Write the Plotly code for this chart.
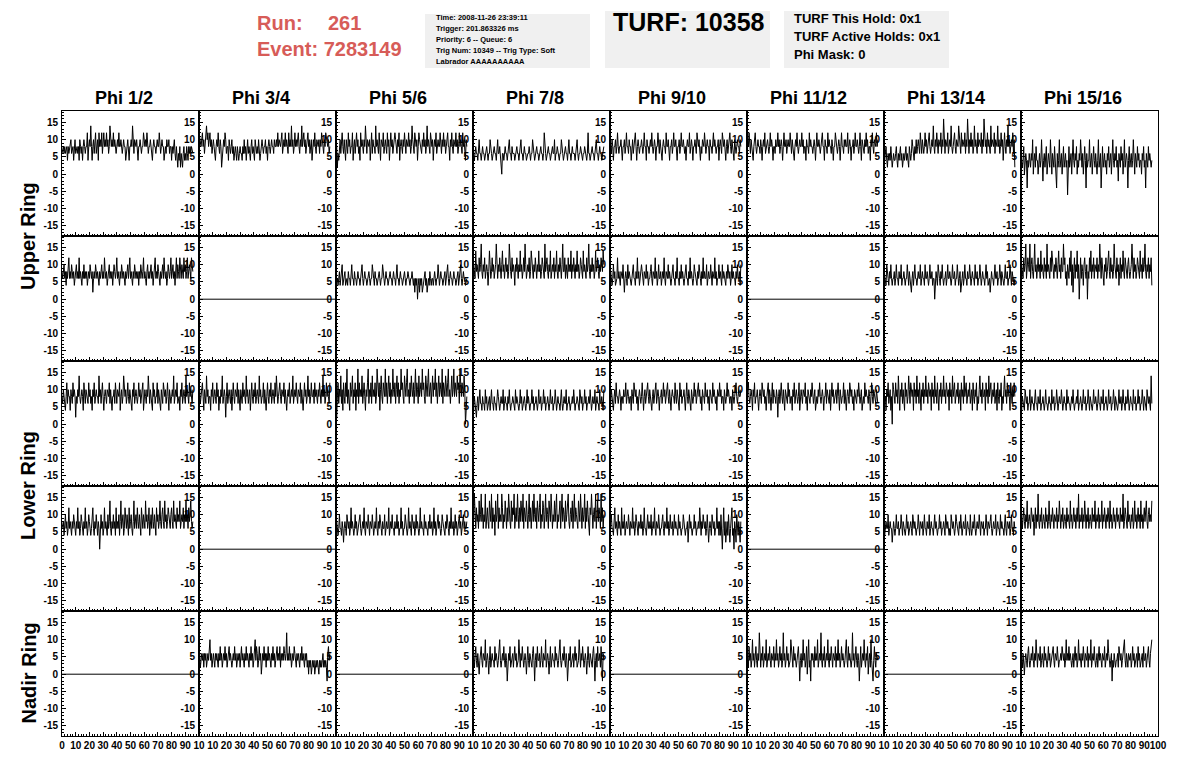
import plotly.graph_objects as go

# ---------------- data (ADC-like waveform samples) ----------------
phi_labels = ["Phi 1/2", "Phi 3/4", "Phi 5/6", "Phi 7/8", "Phi 9/10", "Phi 11/12", "Phi 13/14", "Phi 15/16"]
ring_labels = ["Upper Ring", "Lower Ring", "Nadir Ring"]
y_tick_values = [-15, -10, -5, 0, 5, 10, 15]
x_tick_values = [0, 10, 20, 30, 40, 50, 60, 70, 80, 90, 100]
sample_period_ns = 0.5

r1c1 = [6,8,8,6,8,6,8,8,4,8,6,8,8,10,6,8, 8,4,8,10,6,8,8,6,8,4,10,8,6,8,4,8,
        10,8,6,8,8,12,4,8,10,8,14,8,4,8,10,6, 8,12,6,8,10,4,12,8,10,8,12,6,8,12,8,10,
        8,12,8,10,6,8,14,8,8,10,8,12,8,10,8,6, 8,10,8,12,8,8,10,8,6,8,10,8,8,4,8,8,
        10,8,4,8,8,10,8,14,8,6,10,8,8,10,8,4, 8,8,10,8,6,8,8,12,8,8,10,8,12,8,6,8,
        8,10,8,8,4,8,10,8,8,6,8,10,8,8,12,8, 6,8,10,8,8,4,8,8,6,10,8,8,10,6,8,8,
        4,8,6,8,10,6,4,8,6,2,6,4,8,2,6,4, 2,6,8,4,6,4,8,6,4,8,6,8,6,8,6,6]
r1c2 = [12,10,10,8,10,12,8,10,6,8,10,14,10,12,8,10, 12,8,10,6,8,10,8,6,4,8,10,8,12,8,6,10,
        8,2,6,8,10,8,12,10,6,8,8,4,10,8,6,8, 10,6,8,4,6,8,6,4,8,6,4,6,8,6,6,4,
        8,6,10,6,8,4,6,10,6,8,6,4,8,10,6,8, 6,4,10,8,6,8,6,10,8,4,6,8,10,8,6,8,
        8,10,6,8,4,8,10,8,6,8,10,8,8,6,10,8, 8,10,8,12,8,10,8,8,10,12,6,8,10,8,12,8,
        10,8,6,12,8,10,8,14,8,10,6,8,12,8,10,8, 10,12,8,6,10,8,14,8,10,12,8,10,6,8,10,12,
        8,10,6,8,10,4,8,10,8,12,8,6,10,8,8,10, 6,10,8,12,10,8,6,10,8,12,10,8,8,10,6,8]
r1c3 = [10,8,2,6,4,8,10,6,8,12,8,6,10,8,4,10, 8,6,12,8,10,6,8,8,12,4,8,10,6,8,12,8,
        10,6,8,4,12,8,10,8,6,10,8,14,8,6,10,8, 8,10,4,8,12,6,10,8,8,6,14,8,10,8,6,12,
        8,4,10,8,8,12,6,8,10,8,6,12,8,10,4,8, 12,8,10,6,8,8,12,10,8,6,10,8,12,4,8,10,
        8,6,10,8,12,8,6,10,8,8,12,8,10,6,8,14, 10,8,6,12,8,8,10,4,8,12,10,8,8,6,10,8,
        12,8,10,6,8,14,8,10,8,6,12,8,8,10,4,8, 10,8,12,6,8,10,8,8,12,8,6,10,8,12,8,10,
        6,8,10,12,8,8,4,10,8,12,8,6,10,8,8,12, 8,10,6,8,12,8,10,8,6,12,8,10,8,4,10,8]
r1c4 = [6,6,4,6,8,6,6,4,6,10,6,6,4,6,8,6, 6,4,6,6,8,6,4,6,6,10,6,6,4,6,6,8,
        6,6,4,6,10,6,6,8,6,4,0,6,6,4,6,8, 6,6,4,6,6,10,6,6,4,8,6,6,6,4,6,6,
        8,6,6,4,6,6,10,6,6,4,6,8,6,6,4,6, 6,6,8,6,4,6,6,10,6,6,4,6,6,8,6,6,
        4,6,6,8,6,6,4,6,12,6,6,4,6,6,8,6, 6,4,6,6,8,6,6,10,4,6,6,8,6,6,4,6,
        6,10,6,6,4,6,6,8,6,6,4,6,10,6,6,4, 6,8,6,6,6,4,6,6,10,6,4,6,6,8,6,6,
        4,6,6,8,6,6,4,6,12,6,6,4,6,6,8,6, 6,4,6,6,10,6,6,4,6,8,6,6,4,6,6,8]
r1c5 = [8,8,6,10,8,4,8,8,10,6,8,12,8,6,8,8, 10,8,4,8,8,10,6,8,12,8,8,6,10,8,8,4,
        8,10,6,8,8,12,8,4,8,10,8,6,8,8,10,8, 6,8,12,8,8,4,10,8,8,6,8,10,8,12,8,6,
        8,10,8,4,8,8,12,8,6,10,8,8,4,8,10,8, 8,6,12,8,8,10,8,4,8,8,10,6,8,12,8,8,
        10,8,4,8,8,10,6,8,12,8,8,10,8,6,8,4, 8,10,8,8,12,6,8,10,8,4,8,8,10,8,6,12,
        8,8,10,8,4,8,6,10,8,8,12,8,6,8,10,8, 8,4,10,8,8,6,8,12,8,10,8,6,8,8,10,4,
        8,10,8,6,12,8,8,10,8,4,8,10,6,8,8,12, 8,6,10,8,8,4,10,8,6,8,10,8,8,6,10,8]
r1c6 = [12,10,8,12,8,6,10,8,8,4,8,10,12,8,6,8, 10,8,8,6,10,8,4,8,10,8,12,6,8,8,10,8,
        6,8,12,8,10,8,4,8,8,6,10,8,8,12,8,10, 6,8,10,8,4,8,12,8,8,10,6,8,10,8,8,12,
        8,6,10,8,8,4,8,10,8,12,8,6,8,10,8,8, 12,8,10,6,8,8,4,10,8,8,6,12,8,10,8,8,
        6,8,10,8,4,8,12,8,8,10,8,6,8,10,12,8, 8,4,10,8,8,6,12,8,10,8,8,6,10,8,4,8,
        8,12,10,8,6,8,10,8,4,8,12,8,8,6,10,8, 10,8,8,12,6,8,10,8,4,8,8,10,6,8,12,8,
        8,10,8,6,8,12,8,4,10,8,8,6,10,8,12,8, 10,6,8,8,4,10,8,12,8,6,10,8,8,12,8,10]
r1c7 = [6,4,6,8,4,2,6,4,6,4,8,6,2,4,6,4, 4,6,8,4,2,6,4,6,8,4,6,2,4,6,4,6,
        8,4,6,4,2,8,6,4,6,10,8,6,4,8,6,10, 6,8,10,8,6,12,8,6,10,8,6,8,12,8,10,6,
        8,10,12,8,6,8,10,8,14,8,6,10,8,12,8,6, 10,8,8,12,6,10,8,16,8,6,10,8,8,12,6,8,
        10,8,14,8,6,8,10,12,8,6,10,8,8,14,10,8, 6,12,8,10,8,8,12,6,10,8,16,8,6,10,8,12,
        8,10,6,8,14,8,10,8,6,12,8,10,8,8,12,6, 10,8,16,8,8,10,6,12,8,10,8,6,14,8,10,8,
        8,12,6,10,8,8,14,8,10,6,8,12,8,10,4,8, 12,8,6,10,8,14,8,10,6,8,10,8,12,6,10,2]
r1c8 = [6,4,2,4,8,0,4,6,4,-4,4,2,6,4,2,6, 4,10,0,4,6,2,8,4,4,0,4,6,2,4,10,4,
        -2,4,6,2,4,8,0,4,6,4,2,10,4,0,6,4, 2,8,4,4,-4,6,2,4,10,2,4,6,0,4,8,2,
        4,6,2,4,-6,4,8,2,4,6,0,4,10,4,2,6, 4,8,0,4,2,6,4,10,4,2,6,0,4,8,4,-4,
        6,2,4,4,10,2,4,6,0,4,8,4,2,6,4,0, 4,10,2,4,6,-4,4,8,2,4,6,2,4,0,6,4,
        8,2,4,6,0,4,10,4,2,6,4,8,2,4,-2,6, 4,2,8,4,6,0,4,10,2,4,6,4,-4,4,8,2,
        4,6,2,4,10,4,0,6,4,2,8,4,6,2,4,4, 0,6,4,8,2,4,-4,6,4,2,8,4,6,4,2,4]

r2c1 = [8,6,8,10,6,8,4,8,6,8,12,6,8,6,10,8, 6,8,4,6,8,10,6,8,6,12,6,8,6,4,8,6,
        10,6,8,6,8,4,6,8,6,10,8,6,8,2,6,8, 6,10,8,6,8,6,4,8,6,8,10,6,8,6,12,8,
        6,8,4,6,8,10,6,8,6,8,4,6,10,8,6,8, 12,6,8,6,4,8,6,10,8,6,8,6,4,8,6,8,
        10,6,8,12,6,8,6,4,8,6,10,8,6,8,6,8, 4,8,6,10,8,6,8,12,6,8,6,4,8,10,6,8,
        6,8,10,6,8,4,6,8,12,6,8,6,10,8,6,4, 8,6,8,10,6,12,8,6,8,4,6,10,8,6,8,12,
        6,8,10,6,8,4,8,12,6,10,8,6,12,8,6,10, 8,6,12,8,10,6,8,12,6,8,10,8,6,12,8,8]
r2c3 = [4,6,6,4,6,8,4,6,6,10,4,6,6,8,4,6, 6,4,8,6,6,4,6,10,6,6,4,8,6,6,4,6,
        8,6,6,4,6,6,10,6,4,6,8,6,6,4,6,6, 8,6,4,6,6,10,6,6,4,8,6,6,4,6,6,8,
        6,4,6,6,10,6,6,4,6,8,6,6,4,6,6,8, 6,6,4,6,8,6,6,4,6,10,6,6,4,6,8,6,
        6,4,6,6,8,6,4,6,6,8,6,6,4,6,6,8, 6,4,6,2,6,4,6,0,4,6,2,6,4,6,2,4,
        6,6,8,4,6,2,6,6,4,8,6,4,6,6,4,6, 8,6,4,6,6,10,6,4,6,8,6,6,4,6,6,8,
        4,6,6,10,6,4,6,8,6,6,4,6,8,6,6,4, 6,6,8,4,6,6,10,6,4,6,8,6,6,4,6,6]
r2c4 = [8,10,8,6,14,8,10,8,6,12,8,10,16,8,6,10, 8,12,6,8,10,8,4,8,14,10,6,8,12,8,10,6,
        8,10,16,8,6,10,8,12,8,6,10,14,8,10,6,8, 12,8,10,6,8,16,10,8,6,12,8,10,8,4,10,8,
        12,8,6,10,8,14,8,10,6,8,12,8,16,10,6,8, 10,8,12,6,8,14,10,8,6,10,8,12,8,6,10,8,
        14,8,10,6,8,12,10,8,6,16,8,10,12,8,6,10, 8,14,6,8,10,8,12,6,10,8,14,8,6,10,8,12,
        8,6,10,16,8,8,12,6,10,8,6,12,8,10,8,14, 6,10,8,12,8,6,10,8,14,8,10,6,8,12,10,8,
        6,14,8,10,8,6,12,8,10,16,8,6,10,8,12,8, 10,6,8,14,8,10,12,8,6,10,8,12,10,8,14,10]
r2c5 = [6,8,6,4,6,10,6,8,4,6,6,12,6,8,6,4, 8,6,6,10,6,2,6,8,6,4,10,6,8,6,6,4,
        6,8,10,6,6,4,8,6,12,6,8,4,6,6,10,8, 6,4,8,6,6,10,6,8,4,6,6,8,10,6,4,8,
        6,6,12,6,8,4,6,10,6,6,8,4,6,8,6,12, 6,4,8,6,6,10,6,8,6,4,6,8,10,6,6,4,
        8,6,12,6,6,4,8,6,10,6,8,6,4,6,8,10, 6,6,4,8,6,12,6,8,6,4,6,10,8,6,6,4,
        8,6,10,6,6,4,8,6,12,6,8,6,6,10,4,6, 8,6,6,10,6,4,8,6,6,12,6,8,4,6,6,10,
        6,8,6,4,10,6,8,6,6,4,8,6,10,6,6,8, 4,6,10,6,8,6,6,4,8,6,10,6,6,8,4,10]
r2c7 = [8,6,6,4,10,6,6,4,8,6,10,6,4,6,6,8, 4,6,10,6,6,4,8,6,6,10,4,6,6,8,6,4,
        6,6,10,6,4,8,6,6,2,6,8,4,6,10,6,6, 4,6,8,6,6,10,4,6,8,6,6,4,10,6,6,8,
        6,4,6,10,6,6,8,4,6,6,0,6,8,6,4,10, 6,6,4,8,6,10,6,4,6,6,8,4,6,10,6,6,
        8,6,4,6,10,6,6,8,4,6,6,10,6,4,6,8, 2,6,6,8,4,6,10,6,6,4,8,6,6,10,6,4,
        6,8,6,6,4,10,6,6,8,4,6,6,10,6,4,6, 8,6,6,4,6,10,6,8,4,6,6,2,6,8,6,6,
        4,6,10,6,6,8,4,6,6,10,6,4,8,6,6,4, 6,10,6,6,8,4,6,6,10,6,4,8,6,6,4,6]
r2c8 = [8,10,8,6,12,8,10,16,6,8,12,10,8,16,6,10, 12,8,6,10,16,8,10,6,8,12,8,10,6,14,8,10,
        8,6,12,8,10,6,16,8,10,8,6,12,8,14,10,8, 6,10,8,12,8,6,10,14,8,10,6,12,8,8,16,10,
        12,6,8,4,10,8,6,12,8,14,4,10,2,8,12,6, 10,8,14,6,10,0,8,12,6,10,8,4,10,12,8,6,
        10,0,8,6,12,8,14,6,10,8,12,6,10,8,8,12, 6,10,8,16,8,6,12,10,8,4,10,8,12,6,8,10,
        14,8,6,12,8,10,6,8,16,10,8,6,12,8,10,4, 8,12,6,10,8,14,8,6,12,10,8,6,10,12,8,6,
        8,10,16,8,6,12,8,10,6,8,12,10,8,6,14,8, 10,6,12,8,10,16,8,6,10,8,12,6,10,8,12,4]

r3c1 = [8,6,10,8,8,4,8,12,6,10,8,8,4,10,8,6, 12,8,10,8,2,8,6,10,8,14,8,6,8,10,8,4,
        12,8,6,10,8,8,6,12,8,10,6,8,4,10,8,12, 6,8,10,8,8,6,14,8,10,6,8,12,8,4,8,10,
        8,6,10,8,8,12,6,10,8,4,8,8,10,6,12,8, 6,10,8,8,12,4,8,10,6,8,14,8,8,10,6,8,
        12,8,6,10,8,8,4,10,8,12,6,8,10,8,6,8, 12,8,10,6,8,8,12,4,8,10,8,6,10,8,14,8,
        6,10,8,8,4,12,8,10,6,8,8,12,6,10,8,8, 4,10,8,6,12,8,8,10,6,8,12,8,4,10,8,6,
        8,10,8,14,6,8,10,8,12,6,8,8,4,10,8,12, 6,8,10,8,6,14,8,10,8,6,12,8,10,8,6,10]
r3c2 = [8,10,6,8,8,12,8,4,10,8,6,14,8,10,6,8, 8,4,10,8,12,6,8,10,8,6,12,8,10,4,8,6,
        10,8,14,6,8,10,8,2,8,12,6,8,10,8,6,10, 4,8,12,8,6,10,8,8,12,6,10,8,4,10,8,6,
        12,8,10,8,6,14,8,10,6,8,10,4,8,12,8,6, 10,8,12,6,8,10,8,6,14,8,10,6,8,8,12,6,
        10,8,4,8,12,8,6,10,8,12,6,8,10,8,6,12, 8,14,10,6,8,10,12,8,6,10,8,8,12,6,10,8,
        4,8,10,8,12,6,8,10,8,14,6,8,10,8,12,8, 6,10,8,8,12,6,10,8,4,8,12,8,10,6,8,14,
        8,10,6,8,12,8,8,10,6,12,8,10,8,6,10,8, 12,8,6,10,8,14,8,10,6,8,12,8,10,8,6,12]
r3c3 = [4,2,8,12,6,10,8,14,6,10,4,12,8,6,12,8, 16,6,10,8,4,12,8,10,14,6,10,8,12,4,10,8,
        16,6,12,8,10,8,14,6,10,12,8,4,10,8,12,16, 6,10,8,12,6,14,8,10,8,12,6,8,16,10,8,12,
        4,10,14,8,6,12,10,8,16,8,12,6,10,14,8,12, 6,10,8,16,10,8,12,6,10,14,8,12,6,10,8,16,
        10,12,8,6,14,10,8,12,16,8,10,6,12,8,14,10, 8,12,6,10,16,8,12,10,6,14,8,10,12,8,16,10,
        12,8,6,14,10,8,12,16,8,10,12,6,10,14,8,12, 10,16,8,12,6,10,14,8,12,10,8,16,6,12,10,8,
        14,10,8,12,16,8,10,6,12,14,8,10,16,8,12,10, 8,14,10,12,6,16,10,8,12,10,8,14,10,0,4,8]
r3c4 = [6,4,8,6,6,2,6,8,4,6,10,6,6,4,8,6, 6,4,10,6,8,4,6,6,8,4,6,10,6,6,4,8,
        6,6,4,6,10,8,6,4,6,8,6,6,10,4,6,8, 6,6,4,8,6,10,6,4,6,6,8,6,6,4,10,6,
        8,6,6,4,6,10,6,8,4,6,6,8,6,4,6,10, 6,8,6,4,6,6,10,6,8,4,6,6,8,6,4,6,
        10,6,6,8,4,6,6,10,6,8,4,6,6,8,6,4, 6,10,6,6,8,4,6,6,10,6,4,6,8,6,6,4,
        6,10,6,4,6,8,6,6,10,4,6,6,8,6,4,6, 6,8,6,10,6,4,6,6,8,6,6,4,10,6,6,8,
        4,6,6,10,6,8,4,6,6,8,6,10,6,4,6,8, 6,6,10,4,6,8,6,6,4,10,6,6,8,6,4,10]
r3c5 = [8,6,10,8,8,4,8,10,6,12,8,8,6,8,10,8, 4,8,8,6,10,8,8,12,6,8,10,8,6,8,8,4,
        10,8,6,12,8,8,10,6,8,4,8,10,8,6,8,12, 8,4,8,10,6,8,8,12,8,6,10,8,8,4,8,10,
        6,8,8,12,6,8,10,8,4,8,8,10,6,8,12,8, 10,6,8,8,12,8,6,10,8,4,8,10,8,8,6,12,
        8,6,10,8,8,4,12,8,10,6,8,8,10,8,4,8, 12,8,6,10,8,8,4,10,8,6,8,12,8,10,6,8,
        8,12,8,10,6,8,4,10,8,8,6,12,8,8,10,6, 8,4,10,8,8,6,12,8,10,8,6,8,4,10,8,8,
        12,8,10,6,8,8,4,10,8,6,8,12,8,10,8,6, 8,8,4,10,8,6,8,10,12,8,6,8,10,8,8,10]
r3c6 = [8,10,12,8,6,8,10,8,4,10,8,12,6,8,8,10, 6,4,8,10,8,6,12,8,8,10,6,8,4,8,10,12,
        6,10,8,4,8,12,6,10,8,8,6,10,8,2,8,10, 6,8,12,8,6,10,8,4,10,8,8,6,12,8,10,6,
        8,8,4,10,8,12,6,8,10,8,6,8,12,4,8,10, 8,6,10,8,8,12,6,8,4,10,8,8,6,10,8,12,
        8,6,8,10,4,8,8,6,10,8,12,8,6,8,10,8, 4,8,8,12,6,10,8,8,6,10,4,8,12,8,10,6,
        8,8,10,6,8,12,8,4,10,8,6,8,8,12,6,10, 8,4,8,10,8,6,12,8,8,10,6,8,4,10,8,8,
        6,10,8,12,8,6,8,10,4,8,8,6,12,8,10,8, 8,6,10,8,4,8,12,8,6,10,8,8,6,10,8,6]
r3c7 = [6,8,8,4,10,8,12,6,8,10,4,8,0,12,10,8, 6,12,8,10,6,14,8,4,10,8,12,6,10,8,4,12,
        8,10,6,8,14,10,6,12,8,8,10,4,12,8,10,6, 14,8,10,6,12,8,4,10,8,12,6,10,8,14,8,10,
        6,12,8,8,10,4,12,8,10,6,14,8,10,6,12,8, 4,10,8,12,6,10,8,14,8,10,6,12,8,8,10,4,
        12,8,10,6,14,8,10,12,6,8,10,8,12,6,8,10, 4,12,8,10,6,14,8,10,12,6,8,10,8,12,6,8,
        10,4,12,8,6,10,8,12,4,8,6,10,14,8,10,6, 12,8,8,10,4,12,8,10,6,14,8,10,12,6,8,10,
        8,12,6,8,10,4,12,8,6,10,8,12,4,8,6,10, 14,8,10,6,12,8,10,8,4,12,8,6,10,8,12,8]
r3c8 = [6,4,8,6,6,4,10,6,6,8,4,6,6,10,4,6, 8,6,6,4,6,10,6,6,4,8,6,6,10,4,6,6,
        8,6,4,6,10,6,6,4,6,8,6,6,4,10,6,6, 8,4,6,6,10,6,4,6,8,6,6,10,6,4,6,8,
        6,6,4,10,6,8,6,6,4,6,8,6,10,6,4,6, 6,8,6,10,4,6,6,8,6,4,6,10,6,6,8,4,
        6,6,10,6,4,8,6,6,4,6,10,6,6,8,6,4, 6,10,6,6,4,8,6,6,10,4,6,6,8,6,4,6,
        10,6,6,8,4,6,6,10,6,4,8,6,6,4,6,10, 6,6,8,4,6,10,6,6,4,8,6,6,10,6,4,6,
        8,6,6,4,10,6,6,8,4,6,6,10,6,8,4,6, 6,10,6,4,8,6,6,4,10,6,6,8,6,4,14,6]

r4c1 = [6,8,8,4,6,10,6,8,4,6,12,6,8,6,4,8, 6,10,8,6,4,8,6,12,6,8,4,6,10,8,6,4,
        8,6,12,6,8,4,6,10,8,6,4,6,8,12,6,4, 8,6,10,6,4,8,6,0,6,10,6,8,4,6,12,6,
        8,6,4,10,6,8,14,6,4,8,6,10,6,8,4,12, 6,8,6,10,4,8,14,6,8,10,4,6,12,8,6,10,
        8,4,12,6,8,10,6,4,8,14,6,8,10,6,12,8, 6,10,8,4,12,8,6,10,8,6,14,8,10,6,8,12,
        4,8,10,6,12,8,6,10,8,4,12,8,10,6,8,14, 8,6,10,12,8,6,14,8,10,6,8,12,10,8,6,10,
        12,8,6,14,8,10,8,6,12,8,10,8,14,6,8,10, 8,12,6,10,8,14,8,10,6,12,8,10,14,8,6,8]
r4c3 = [6,8,6,4,6,10,6,6,4,8,6,2,6,8,6,4, 10,6,6,8,4,6,12,6,8,6,4,6,10,6,8,4,
        6,6,8,10,6,4,6,8,6,12,6,4,8,6,6,10, 6,4,8,6,6,10,6,4,6,8,6,12,6,4,8,6,
        10,6,6,4,8,6,6,10,4,6,8,6,6,12,4,6, 8,6,10,6,6,4,8,6,6,10,6,8,4,6,6,12,
        6,8,4,6,6,10,8,6,4,6,12,6,8,6,4,10, 6,6,8,4,6,10,6,8,6,4,6,12,6,8,6,6,
        4,10,6,8,6,6,4,8,6,10,6,6,8,4,6,12, 6,8,4,6,6,10,6,8,6,4,6,10,8,6,6,4,
        8,6,10,6,6,4,8,6,12,6,6,8,4,6,10,6, 8,4,6,6,10,6,8,4,6,6,10,6,8,6,6,8]
r4c4 = [10,8,16,8,6,12,8,10,6,14,8,10,16,8,12,6, 10,8,16,6,10,12,8,6,14,10,8,16,6,12,8,10,
        4,14,8,10,16,6,12,8,10,8,16,12,6,10,8,14, 10,6,12,8,16,10,8,6,14,8,12,10,16,6,8,12,
        8,16,10,6,12,8,14,10,8,16,6,12,10,8,14,8, 6,10,16,8,12,6,10,14,8,16,10,8,12,6,14,10,
        8,12,16,6,10,8,14,12,6,10,16,8,12,10,6,14, 10,8,16,12,6,10,8,14,8,12,16,6,10,8,12,14,
        6,10,16,8,12,10,6,14,8,10,12,16,8,6,10,12, 8,14,6,10,16,8,12,10,8,6,14,12,8,16,10,6,
        12,8,10,16,6,12,8,14,10,8,4,12,10,16,8,6, 10,12,8,16,6,10,14,8,12,10,6,16,8,12,6,10]
r4c5 = [6,8,10,6,6,4,8,12,6,8,6,4,10,6,8,6, 4,12,6,8,6,10,4,6,8,6,6,10,6,4,8,6,
        6,12,6,8,4,6,10,8,6,4,8,6,6,10,6,8, 4,6,12,6,6,4,8,10,6,8,6,6,10,4,6,8,
        6,12,6,4,8,6,6,10,8,4,6,6,8,10,6,4, 8,6,6,12,6,8,4,6,10,6,6,8,4,6,10,6,
        8,6,6,4,10,6,8,6,4,6,6,10,8,6,4,6, 6,8,2,6,10,6,8,6,4,6,6,10,6,8,4,6,
        6,8,6,12,6,4,8,6,10,6,6,8,4,6,10,6, 2,6,8,6,4,10,6,6,8,4,6,6,12,6,8,4,
        8,4,10,6,0,6,12,4,8,2,6,8,4,10,6,2, 6,8,12,4,6,0,8,6,2,10,6,4,8,6,2,8]
r4c7 = [6,4,6,8,6,6,10,4,6,8,6,6,2,6,8,6, 4,6,10,6,6,8,4,6,6,10,6,4,8,6,6,4,
        6,10,6,8,4,6,6,8,6,4,10,6,6,8,6,4, 6,6,10,6,4,8,6,6,8,4,6,10,6,6,4,8,
        6,6,10,4,6,8,6,6,4,6,10,6,8,6,4,6, 6,10,6,8,4,6,6,8,6,4,10,6,6,8,6,4,
        6,4,10,6,6,8,6,4,6,10,8,6,6,4,8,6, 10,6,4,6,8,6,6,10,4,6,8,6,6,4,10,6,
        4,6,8,6,10,6,4,6,8,6,6,10,6,4,8,6, 6,8,4,6,6,10,6,4,8,6,6,8,10,6,4,6,
        8,6,6,10,4,6,8,6,6,4,10,6,8,6,6,4, 6,10,6,4,8,6,6,8,4,6,10,6,6,4,8,6]
r4c8 = [8,10,6,8,12,8,6,10,8,14,6,8,10,8,6,12, 8,8,10,4,8,12,6,10,8,16,8,6,10,8,12,6,
        8,10,8,6,12,8,10,6,8,14,8,6,10,8,12,8, 6,10,8,8,12,6,10,8,14,8,6,10,8,12,6,8,
        10,8,6,12,8,10,8,6,14,8,10,6,8,12,8,10, 6,8,12,8,16,6,10,8,8,12,6,10,8,14,8,6,
        10,8,12,6,8,10,8,6,12,8,10,8,14,6,8,10, 8,12,6,10,8,8,14,6,10,8,12,8,6,10,8,12,
        8,6,14,8,10,6,8,12,8,10,6,8,12,8,10,8, 6,12,8,10,8,16,6,8,12,10,8,6,14,8,10,8,
        6,10,8,12,6,8,14,8,10,6,8,12,8,10,6,14, 8,10,6,8,12,8,10,14,8,6,10,12,8,10,8,14]

r5c2 = [4,6,2,4,6,4,6,2,6,4,6,2,4,6,4,6, 10,4,6,2,4,6,4,2,6,4,6,4,2,6,4,8,
        4,6,2,4,6,4,8,4,6,2,4,6,8,4,6,4, 2,4,6,4,8,4,6,2,4,6,4,6,2,4,8,4,
        6,4,2,6,4,8,4,6,4,2,6,4,8,4,6,2, 4,6,10,4,8,6,2,4,8,4,6,0,4,6,4,8,
        4,6,2,6,4,8,4,6,4,2,6,4,8,4,6,2, 4,6,8,4,6,4,8,2,6,4,6,4,8,6,4,6,
        12,4,6,4,8,4,6,2,4,6,4,8,6,4,2,6, 4,6,4,2,6,4,8,4,6,4,2,6,4,6,2,4,
        0,4,2,4,0,2,4,2,4,0,2,4,2,4,2,0, 4,2,4,2,4,6,2,4,2,4,2,-2,6,8,4,6]
r5c4 = [4,6,2,4,8,4,2,6,4,0,4,6,8,4,2,6, 4,4,10,2,4,6,4,0,4,8,2,4,6,4,4,2,
        8,4,6,4,2,4,6,10,4,2,4,6,4,8,4,2, 6,4,-2,4,6,4,8,2,4,4,6,2,4,8,4,6,
        2,4,4,10,4,2,6,4,8,4,2,4,6,4,0,4, 8,4,2,6,4,4,2,6,8,4,-2,4,6,2,8,4,
        4,6,2,4,8,4,2,6,4,4,10,2,4,6,4,0, 4,8,2,4,6,4,4,2,8,4,6,4,2,4,6,10,
        4,2,4,6,4,8,4,2,6,4,-2,4,6,4,8,2, 4,4,6,2,4,8,4,6,2,4,4,10,4,2,6,4,
        8,4,2,4,6,4,0,4,8,4,2,6,4,4,2,6, 8,4,-2,4,6,2,8,4,4,6,2,8,4,-2,6,4]
r5c6 = [6,4,2,8,4,6,2,4,10,4,6,2,4,8,4,2, 6,4,12,4,2,6,4,8,2,4,6,4,10,2,4,6,
        4,8,4,2,6,4,4,8,2,6,4,10,4,6,2,4, 8,4,6,2,4,12,4,6,2,4,8,4,6,2,4,4,
        10,6,4,2,8,4,6,4,2,4,6,8,4,-2,4,6, 2,4,10,4,6,2,4,8,0,4,10,2,4,-2,6,4,
        6,4,2,8,4,6,4,10,2,4,6,4,12,4,2,6, 4,8,2,4,6,4,10,4,2,6,4,8,4,2,6,4,
        4,8,2,6,4,10,4,6,2,4,8,4,6,4,2,4, 6,10,4,2,8,4,6,4,2,4,12,4,6,2,4,8,
        4,2,6,4,-2,4,8,2,4,6,4,10,4,2,6,4, 8,0,4,6,2,10,4,2,-2,4,8,4,2,6,4,4]
r5c8 = [6,4,2,6,4,0,4,6,4,2,6,8,4,2,4,6, 4,8,4,2,6,4,10,4,2,6,4,4,8,2,4,6,
        4,2,8,4,6,4,2,4,8,4,6,2,4,4,6,8, 4,2,6,4,4,8,6,2,4,4,6,4,8,4,4,6,
        2,4,10,4,6,4,8,4,6,4,2,4,6,2,4,8, 4,6,2,4,10,4,6,4,2,6,4,8,4,2,6,4,
        4,8,2,6,4,4,10,2,4,6,4,8,4,2,4,6, 2,4,8,4,6,4,2,6,4,4,8,2,4,6,4,10,
        6,4,2,4,6,-2,4,2,6,4,2,4,4,6,2,8, 4,4,6,2,4,6,8,10,4,2,6,4,2,6,4,4,
        6,2,4,8,4,6,2,4,4,6,2,8,4,6,2,4, 4,6,2,8,4,4,6,2,4,6,8,4,2,6,8,10]

# dead channels: flat at zero across the whole window (0..100 ns)
dead_time = [0, 100]
dead_values = [0, 0]

waveforms = [
    [r1c1, r1c2, r1c3, r1c4, r1c5, r1c6, r1c7, r1c8],
    [r2c1, None, r2c3, r2c4, r2c5, None, r2c7, r2c8],
    [r3c1, r3c2, r3c3, r3c4, r3c5, r3c6, r3c7, r3c8],
    [r4c1, None, r4c3, r4c4, r4c5, None, r4c7, r4c8],
    [None, r5c2, None, r5c4, None, r5c6, None, r5c8],
]

info_lines = ["Time: 2008-11-26 23:39:11", "Trigger: 201.863326 ms", "Priority: 6 -- Queue: 6",
              "Trig Num: 10349 -- Trig Type: Soft", "Labrador AAAAAAAAAA"]
turf_lines = ["TURF This Hold: 0x1", "TURF Active Holds: 0x1", "Phi Mask: 0"]

# ---------------- layout geometry (pixels in the screenshot) ----------------
W, H = 1196, 772
PAGE_OFF = 8  # default body margin of the written html page
LEFT0, COLW = 62.0, 137.0
TOP0, ROWH = 111.0, 125.0
NR, NC = 5, 8


def fx(x):
    return (x - PAGE_OFF) / W


def fy(y):
    return 1 - (y - PAGE_OFF) / H


FONT = "Liberation Sans, Arial, sans-serif"
fig = go.Figure()
layout = dict(template="none", width=W, height=H, margin=dict(l=0, r=0, t=0, b=0, autoexpand=False),
              paper_bgcolor="white", plot_bgcolor="white", showlegend=False)

for r in range(NR):
    for c in range(NC):
        n = r * NC + c + 1
        sfx = "" if n == 1 else str(n)
        x0 = LEFT0 + c * COLW
        y0 = TOP0 + r * ROWH
        wf = waveforms[r][c]
        if wf is None:
            xs, ys = dead_time, dead_values
        else:
            xs = [i * sample_period_ns for i in range(len(wf))]
            ys = wf
        fig.add_trace(go.Scatter(x=xs, y=ys, mode="lines",
                                 line=dict(color="black", width=1),
                                 xaxis="x" + sfx, yaxis="y" + sfx, hoverinfo="skip"))
        bottom = (r == NR - 1)
        if c == 0:
            xt_vals = x_tick_values
            xt_text = [str(v) for v in x_tick_values[:-1]] + ["10"]
        elif c == NC - 1:
            xt_vals = x_tick_values[1:]
            xt_text = [str(v) for v in x_tick_values[1:]]
        else:
            xt_vals = x_tick_values[1:]
            xt_text = [str(v) for v in x_tick_values[1:-1]] + ["10"]
        layout["xaxis" + sfx] = dict(
            domain=[fx(x0), fx(x0 + COLW)], range=[0, 100], anchor="y" + sfx, automargin=False,
            showline=True, linecolor="black", linewidth=1, mirror=True,
            ticks="inside", ticklen=4, tickcolor="black", tickwidth=1,
            tickvals=xt_vals, ticktext=xt_text, showticklabels=bottom, tickangle=0,
            tickfont=dict(family=FONT, size=10, color="black", weight="bold"),
            minor=dict(ticks="inside", dtick=2, ticklen=2, tickcolor="black", showgrid=False),
            showgrid=False, zeroline=False, fixedrange=True)
        layout["yaxis" + sfx] = dict(
            domain=[fy(y0 + ROWH), fy(y0)], range=[-17.9, 18.3], anchor="x" + sfx, automargin=False,
            showline=True, linecolor="black", linewidth=1, mirror=True,
            ticks="inside", ticklen=4, tickcolor="black", tickwidth=1,
            tickvals=y_tick_values, ticktext=[str(v) for v in y_tick_values],
            tickfont=dict(family=FONT, size=10, color="black", weight="bold"),
            ticklabelstandoff=1,
            minor=dict(ticks="inside", dtick=1, ticklen=2, tickcolor="black", showgrid=False),
            showgrid=False, zeroline=False, fixedrange=True)

ann = []
shapes = []
# column titles
for c, lab in enumerate(phi_labels):
    cx = LEFT0 + c * COLW + COLW / 2 - 7
    ann.append(dict(x=fx(cx), y=fy(98), xref="paper", yref="paper", text=lab, showarrow=False,
                    xanchor="center", yanchor="middle",
                    font=dict(family=FONT, size=18, color="black", weight="bold")))
# ring labels
ring_centers = [TOP0 + ROWH, TOP0 + 3 * ROWH, TOP0 + 4.5 * ROWH]
for lab, cy in zip(ring_labels, ring_centers):
    ann.append(dict(x=fx(28), y=fy(cy), xref="paper", yref="paper", text=lab, showarrow=False,
                    textangle=-90, xanchor="center", yanchor="middle",
                    font=dict(family=FONT, size=20, color="black", weight="bold")))
# header: run / event
RED = "#d75c58"
ann.append(dict(x=fx(255), y=fy(23), xref="paper", yref="paper", text="Run:", showarrow=False,
                xanchor="left", yanchor="middle", font=dict(family=FONT, size=20, color=RED, weight="bold")))
ann.append(dict(x=fx(326), y=fy(23), xref="paper", yref="paper", text="261", showarrow=False,
                xanchor="left", yanchor="middle", font=dict(family=FONT, size=20, color=RED, weight="bold")))
ann.append(dict(x=fx(255), y=fy(49), xref="paper", yref="paper", text="Event: 7283149", showarrow=False,
                xanchor="left", yanchor="middle", font=dict(family=FONT, size=20, color=RED, weight="bold")))
# grey boxes
for (bx0, by0, bx1, by1) in [(425, 14, 590, 68), (605, 11, 770, 68), (784, 11, 949, 68)]:
    shapes.append(dict(type="rect", xref="paper", yref="paper", x0=fx(bx0), x1=fx(bx1),
                       y0=fy(by1), y1=fy(by0), fillcolor="#f0f0f0", line=dict(width=0), layer="below"))
for i, line in enumerate(info_lines):
    ann.append(dict(x=fx(434), y=fy(17 + i * 11.2), xref="paper", yref="paper", text=line, showarrow=False,
                    xanchor="left", yanchor="middle", font=dict(family=FONT, size=7.5, color="black", weight="bold")))
ann.append(dict(x=fx(612), y=fy(22), xref="paper", yref="paper", text="TURF: 10358", showarrow=False,
                xanchor="left", yanchor="middle", borderpad=0,
                font=dict(family=FONT, size=25, color="black", weight="bold")))
for i, line in enumerate(turf_lines):
    ann.append(dict(x=fx(792), y=fy(18 + i * 18.5), xref="paper", yref="paper", text=line, showarrow=False,
                    xanchor="left", yanchor="middle", font=dict(family=FONT, size=13, color="black", weight="bold")))

layout["annotations"] = ann
layout["shapes"] = shapes
fig.update_layout(**layout)
fig.write_html("out.html", config={"displayModeBar": False})
